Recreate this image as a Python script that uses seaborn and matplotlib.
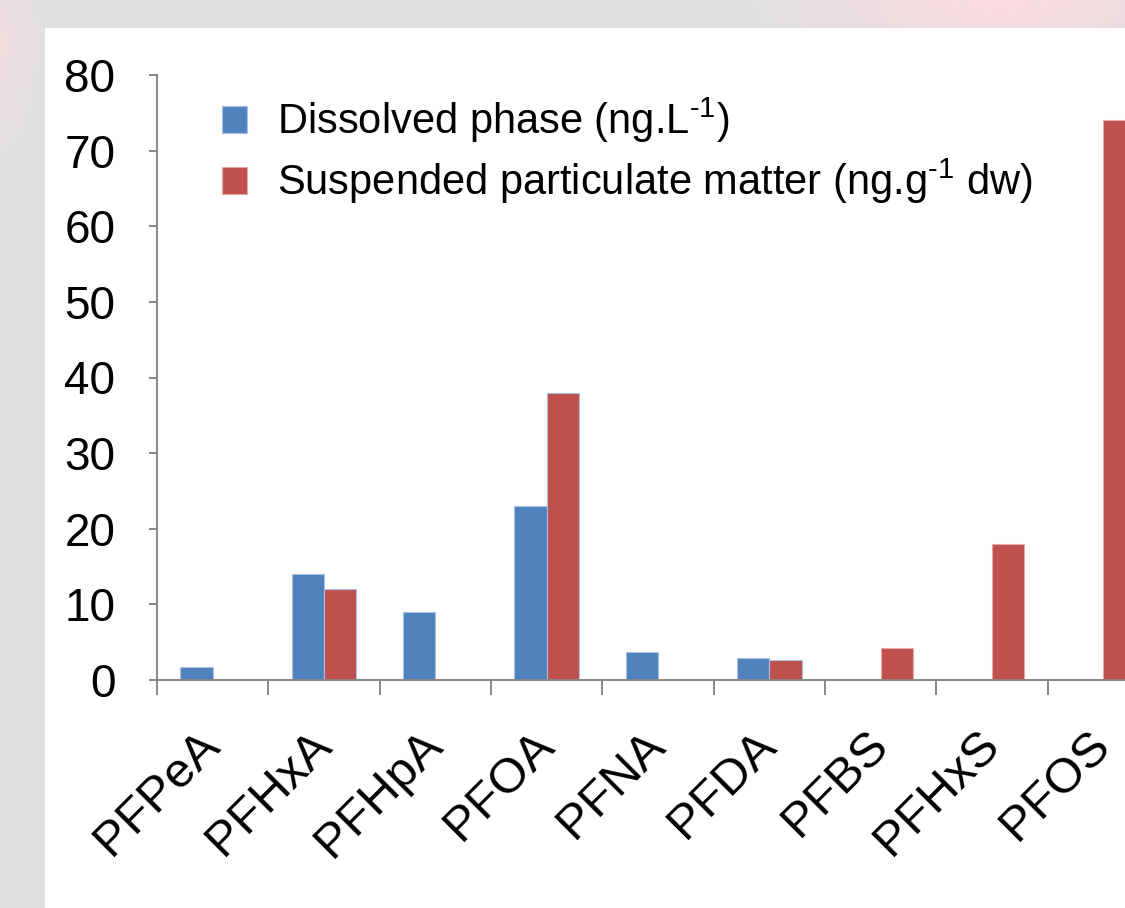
import numpy as np
import pandas as pd
import matplotlib
matplotlib.use("Agg")
import matplotlib.pyplot as plt
from matplotlib.patches import Patch, Rectangle
import seaborn as sns

# ---- data ----
categories = ["PFPeA", "PFHxA", "PFHpA", "PFOA", "PFNA", "PFDA", "PFBS", "PFHxS", "PFOS"]
dissolved = [1.7, 14.0, 9.0, 23.0, 3.7, 2.9, np.nan, np.nan, np.nan]
spm = [np.nan, 12.0, np.nan, 38.0, np.nan, 2.6, 4.2, 18.0, 74.0]
series_names = ["Dissolved phase (ng.L$^{\u20101}$)",
                "Suspended particulate matter (ng.g$^{\u20101}$ dw)"]
y_ticks = [0, 10, 20, 30, 40, 50, 60, 70, 80]

df = pd.DataFrame({
    "compound": categories * 2,
    "series": [series_names[0]] * len(categories) + [series_names[1]] * len(categories),
    "value": dissolved + spm,
})

sns.set_theme(style="white")
plt.rcParams["font.family"] = ["Liberation Sans", "DejaVu Sans"]
plt.rcParams["mathtext.fontset"] = "custom"
plt.rcParams["mathtext.rm"] = "Liberation Sans"
plt.rcParams["mathtext.it"] = "Liberation Sans:italic"
plt.rcParams["mathtext.default"] = "regular"
plt.rcParams["text.color"] = "black"

W, H = 1125, 908
fig = plt.figure(figsize=(W / 100, H / 100), dpi=100)
fig.patch.set_facecolor("#e0e0e0")

# background decoration
bg = fig.add_axes([0, 0, 1, 1], zorder=-10)
bg.set_axis_off()
yy, xx = np.mgrid[0:H:4, 0:W:4]
base = np.array([0.878, 0.878, 0.878])
pink = np.array([0.99, 0.86, 0.88])
w1 = np.clip(1 - np.hypot((xx - 1000) / 260.0, (yy - 0) / 80.0), 0, 1)
w2 = np.clip(1 - np.hypot((xx - 0) / 40.0, (yy - 40) / 120.0), 0, 1) * 0.6
wt = np.clip(w1 + w2, 0, 1)[..., None]
img = base * (1 - wt) + pink * wt
bg.imshow(img, extent=[0, 1, 0, 1], aspect="auto", transform=bg.transAxes)
bg.add_patch(Rectangle((45 / W, 0), 1 - 45 / W, (H - 28) / H, transform=bg.transAxes,
                       facecolor="white", edgecolor="none"))
bg.set_xlim(0, 1)
bg.set_ylim(0, 1)

ax = fig.add_axes([157 / W, (H - 680) / H, 1002 / W, 605 / H])
ax.set_facecolor("none")

palette = {series_names[0]: "#4F81BD", series_names[1]: "#C0504D"}
sns.barplot(data=df, x="compound", y="value", hue="series", hue_order=series_names,
            order=categories, palette=palette, width=0.58, gap=0, errorbar=None,
            saturation=1, ax=ax, legend=False, linewidth=0)

for p, c in zip(ax.patches, ["#a8c1e3"] * len(categories) + ["#e9a9a7"] * len(categories)):
    p.set_edgecolor(c)
    p.set_linewidth(0.8)

ax.set_xlim(-0.5, len(categories) - 0.5)
ax.set_ylim(0, 80)
ax.set_yticks(y_ticks)
ax.set_yticklabels([str(v) for v in y_ticks])
ax.set_xlabel("")
ax.set_ylabel("")

axis_color = "#878787"
for s in ["top", "right"]:
    ax.spines[s].set_visible(False)
for s in ["left", "bottom"]:
    ax.spines[s].set_color(axis_color)
    ax.spines[s].set_linewidth(1.4)

ax.tick_params(axis="y", direction="out", length=6, width=1.4, color=axis_color,
               labelsize=33, pad=24, labelcolor="black", left=True)
# category labels at centres, tick marks at boundaries
ax.set_xticks(range(len(categories)))
ax.set_xticklabels(categories, rotation=45, ha="right", va="center",
                   rotation_mode="anchor", fontsize=35.5)
ax.set_xticks(np.arange(-0.5, len(categories), 1.0), minor=True)
ax.tick_params(axis="x", which="major", length=0, pad=42, labelcolor="black")
ax.tick_params(axis="x", which="minor", direction="out", length=11, width=1.4,
               color=axis_color, bottom=True)

handles = [Patch(facecolor="#4F81BD", edgecolor="#a8c1e3", linewidth=0.8),
           Patch(facecolor="#C0504D", edgecolor="#e9a9a7", linewidth=0.8)]
fig.legend(handles, series_names, loc="upper left",
           bbox_to_anchor=(222 / W, 1 - 96 / H), bbox_transform=fig.transFigure,
           frameon=False, fontsize=30, handlelength=0.6, handleheight=0.6,
           handletextpad=0.72, labelspacing=0.27, borderpad=0, borderaxespad=0,
           labelcolor="black")

fig.savefig("out.png", dpi=100, facecolor=fig.get_facecolor())
